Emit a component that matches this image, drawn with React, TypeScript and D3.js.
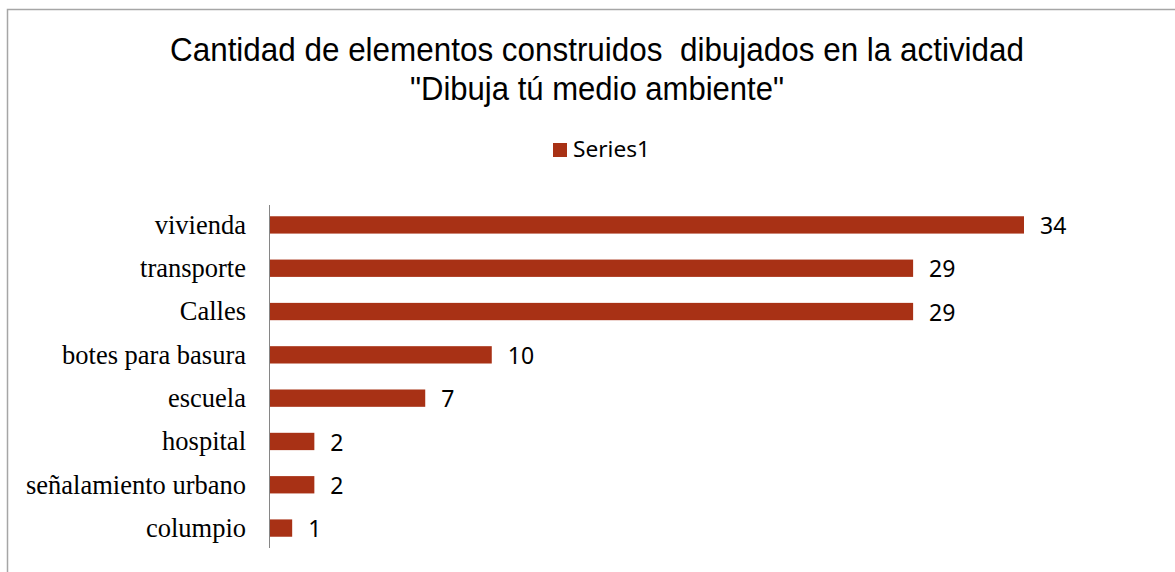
import React from 'react'
import * as d3 from 'd3'

const categories = ['vivienda', 'transporte', 'Calles', 'botes para basura', 'escuela', 'hospital', 'señalamiento urbano', 'columpio']
const values = [34, 29, 29, 10, 7, 2, 2, 1]
const seriesName = 'Series1'
const titleLines = ['Cantidad de elementos construidos  dibujados en la actividad', '"Dibuja tú medio ambiente"']

const W = 1175
const H = 572
const barColor = '#a83115'

export default function App () {
  const x = d3.scaleLinear().domain([0, 34]).range([270, 1024])
  const y = d3.scaleBand<string>()
    .domain(categories)
    .range([205, 548])
    .paddingInner(0.6)
    .paddingOuter(0.26)

  return (
    <svg width={W} height={H} style={{ position: 'absolute', left: 0, top: 0, background: '#fff' }}>
      {/* chart frame */}
      <rect x={7.5} y={9.5} width={1300} height={700} fill="#fff" stroke="#a6a6a6" strokeWidth={1.5} />

      {/* title */}
      <g fontFamily="'Liberation Sans', Arial, sans-serif" fontSize={33.5} fill="#000" textAnchor="middle">
        <text x={597} y={61} textLength={854} lengthAdjust="spacingAndGlyphs" style={{ whiteSpace: 'pre' }}>{titleLines[0]}</text>
        <text x={597} y={100} textLength={374} lengthAdjust="spacingAndGlyphs">{titleLines[1]}</text>
      </g>

      {/* legend */}
      <rect x={553} y={143} width={14} height={14} fill={barColor} />
      <text x={573} y={157} fontFamily="'Noto Sans', sans-serif" fontSize={22.5} fill="#000" textLength={77} lengthAdjust="spacingAndGlyphs">{seriesName}</text>

      {/* bars */}
      {categories.map((c, i) => (
        <rect key={c} x={x(0)} y={y(c)} width={x(values[i]) - x(0)} height={y.bandwidth()} fill={barColor} />
      ))}

      {/* axis line */}
      <line x1={x(0) - 0.5} x2={x(0) - 0.5} y1={y.range()[0]} y2={y.range()[1]} stroke="#868686" strokeWidth={1} />

      {/* category labels */}
      <g fontFamily="'Liberation Serif', 'Times New Roman', serif" fontSize={26.5} fill="#000" textAnchor="end">
        {categories.map(c => (
          <text key={c} x={246} y={(y(c) ?? 0) + y.bandwidth() / 2} dy="0.33em">{c}</text>
        ))}
      </g>

      {/* value labels */}
      <g fontFamily="'Noto Sans', sans-serif" fontSize={23} fill="#000">
        {categories.map((c, i) => (
          <text key={c} x={x(values[i]) + 16} y={(y(c) ?? 0) + y.bandwidth() / 2} dy="0.4em">{values[i]}</text>
        ))}
      </g>
    </svg>
  )
}
